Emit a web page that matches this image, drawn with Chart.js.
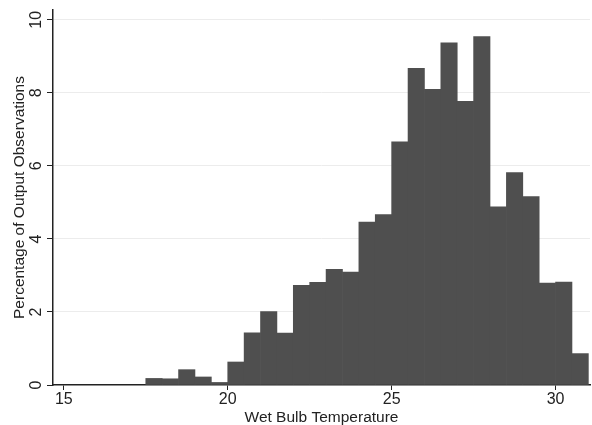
<!DOCTYPE html>
<html>
<head>
<meta charset="utf-8">
<script src="https://cdn.jsdelivr.net/npm/chart.js@4/dist/chart.umd.min.js"></script>
<style>
  html, body { margin: 0; padding: 0; background: #fff; }
  canvas { display: block; }
</style>
</head>
<body>
<canvas id="hist" width="592" height="425"></canvas>
<script>
// bin centres (bin width 0.5) and percentage of observations in each bin
const binCenters = [17.75, 18.25, 18.75, 19.25, 19.75, 20.25, 20.75, 21.25, 21.75, 22.25,
  22.75, 23.25, 23.75, 24.25, 24.75, 25.25, 25.75, 26.25, 26.75, 27.25,
  27.75, 28.25, 28.75, 29.25, 29.75, 30.25, 30.75];
const percents = [0.18, 0.17, 0.42, 0.22, 0.07, 0.63, 1.43, 2.01, 1.42, 2.73,
  2.81, 3.17, 3.09, 4.46, 4.67, 6.66, 8.67, 8.10, 9.37, 7.77,
  9.54, 4.88, 5.82, 5.16, 2.79, 2.82, 0.86];
const xTicks = [15, 20, 25, 30];
const yTicks = [0, 2, 4, 6, 8, 10];

const FONT = "'Liberation Sans', Arial, sans-serif";
const INK = "#222";

// y tick labels are rotated like the y title
const rotatedYLabels = {
  id: "rotatedYLabels",
  afterDraw(chart) {
    const { ctx } = chart;
    const y = chart.scales.y;
    ctx.save();
    ctx.fillStyle = INK;
    ctx.font = `16px ${FONT}`;
    ctx.textAlign = "center";
    ctx.textBaseline = "middle";
    for (const v of yTicks) {
      ctx.save();
      ctx.translate(37, y.getPixelForValue(v));
      ctx.rotate(-Math.PI / 2);
      ctx.fillText(String(v), 0, 0);
      ctx.restore();
    }
    ctx.restore();
  },
};

new Chart(document.getElementById("hist"), {
  type: "bar",
  data: {
    datasets: [
      {
        data: binCenters.map((x, i) => ({ x, y: percents[i] })),
        backgroundColor: "#4f4f4f",
        borderWidth: 0,
        barPercentage: 1,
        categoryPercentage: 1,
      },
    ],
  },
  options: {
    responsive: false,
    animation: false,
    devicePixelRatio: 1,
    layout: { padding: { top: 10, right: 2, left: 0, bottom: 0 } },
    plugins: { legend: { display: false }, tooltip: { enabled: false } },
    scales: {
      x: {
        type: "linear",
        min: 14.67,
        max: 31.05,
        offset: false,
        afterBuildTicks: (s) => { s.ticks = xTicks.map((value) => ({ value })); },
        afterFit: (s) => { s.height = 40; },
        grid: { offset: false, drawOnChartArea: false, drawTicks: true, tickLength: 5, tickColor: INK },
        border: { color: INK, width: 1.5 },
        ticks: { color: INK, font: { family: FONT, size: 16 }, padding: 0, maxRotation: 0 },
        title: {
          display: true,
          text: "Wet Bulb Temperature",
          color: INK,
          font: { family: FONT, size: 15.5, lineHeight: 0.9 },
          padding: 0,
        },
      },
      y: {
        min: 0,
        max: 10.27,
        afterBuildTicks: (s) => { s.ticks = yTicks.map((value) => ({ value })); },
        afterFit: (s) => { s.width = 53; },
        grid: {
          color: (c) => (c.tick && c.tick.value === 0 ? "rgba(0,0,0,0)" : "#ececec"),
          lineWidth: 1,
          drawTicks: true,
          tickLength: 6,
          tickColor: INK,
        },
        border: { color: INK, width: 1.5 },
        ticks: { display: false },
        title: {
          display: true,
          text: "Percentage of Output Observations",
          color: INK,
          font: { family: FONT, size: 15.5, lineHeight: 1.2 },
          padding: { top: 10, bottom: 0 },
        },
      },
    },
  },
  plugins: [rotatedYLabels],
});
</script>
</body>
</html>
